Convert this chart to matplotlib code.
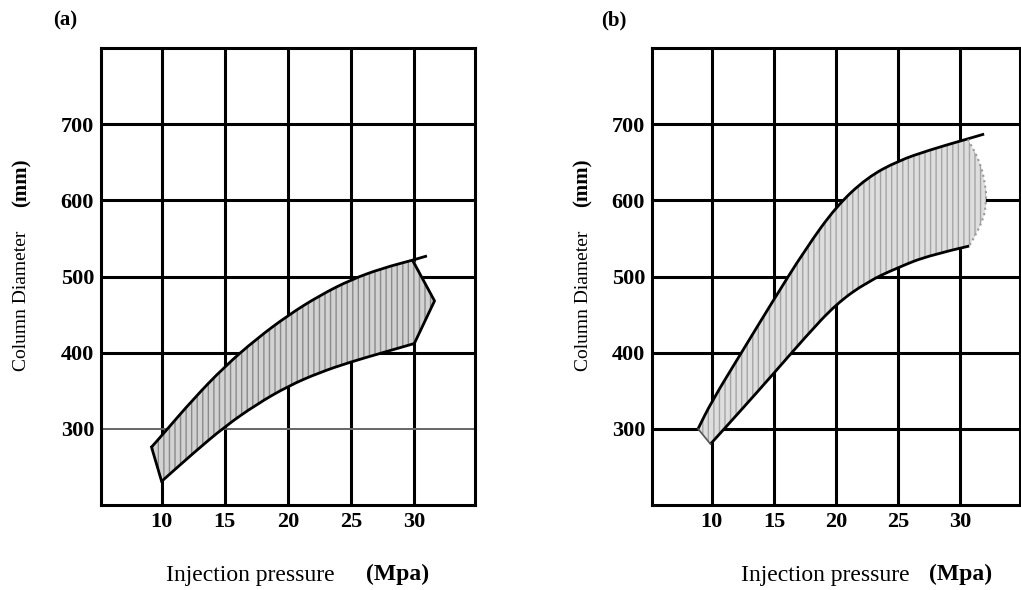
import numpy as np
import matplotlib
matplotlib.use("Agg")
import matplotlib.pyplot as plt
from matplotlib.path import Path
from matplotlib.patches import PathPatch

# =========================
# DATA
# =========================

x_ticks = [10, 15, 20, 25, 30]
y_ticks = [300, 400, 500, 600, 700]

# panel (a)
upper_a_x = [9.2, 10, 12.5, 15, 17.5, 20, 22.5, 25, 27.5, 30, 31.0]
upper_a_y = [276, 291, 339, 382, 418, 449, 475, 496, 511, 522, 527]
lower_a_x = [10, 12.5, 15, 17.5, 20, 22.5, 25, 27.5, 30]
lower_a_y = [231, 268, 303, 332, 356, 374, 388, 400, 412]
tip_a = (31.6, 468)

# panel (b)
upper_b_x = [8.9, 10, 12.5, 15, 17.5, 20, 22.5, 25, 27.5, 30, 31.9]
upper_b_y = [300, 336, 403, 470, 535, 592, 630, 652, 666, 678, 687]
lower_b_x = [9.9, 12.5, 15, 17.5, 20, 22.5, 25, 27.5, 30.7]
lower_b_y = [280, 327, 373, 420, 464, 493, 512, 528, 540]
edge_b_x = [30.6, 31.6, 32.0, 32.1, 31.8, 30.7]
edge_b_y = [680, 650, 620, 600, 570, 540]

plt.rcParams['font.family'] = ['Liberation Serif', 'DejaVu Serif']

fig = plt.figure(figsize=(10.21, 5.90), dpi=100)


def smooth(xs, ys):
    # quadratic bezier through the midpoints, so the drawn curve has no kinks
    p = list(zip(xs, ys))
    verts = [p[0]]
    codes = [Path.MOVETO]
    if len(p) > 2:
        verts.append(((p[0][0] + p[1][0]) / 2, (p[0][1] + p[1][1]) / 2))
        codes.append(Path.LINETO)
        for i in range(1, len(p) - 1):
            mid = ((p[i][0] + p[i + 1][0]) / 2, (p[i][1] + p[i + 1][1]) / 2)
            if i == len(p) - 2:
                mid = p[i + 1]
            verts += [p[i], mid]
            codes += [Path.CURVE3, Path.CURVE3]
    else:
        verts.append(p[1])
        codes.append(Path.LINETO)
    return verts, codes


def joined(*pieces):
    verts, codes = [], []
    for k, (v, c) in enumerate(pieces):
        c = list(c)
        if k > 0:
            c[0] = Path.LINETO
        verts += v
        codes += c
    verts.append(verts[0])
    codes.append(Path.CLOSEPOLY)
    return Path(verts, codes)


def draw_curve(ax, xs, ys, **kw):
    v, c = smooth(xs, ys)
    ax.add_patch(PathPatch(Path(v, c), fill=False, zorder=3, **kw))


def grid_axes(rect, light_300=False):
    ax = fig.add_axes(rect)
    ax.set_xlim(5.2, 34.8)
    ax.set_ylim(200, 800)
    for x in x_ticks:
        ax.axvline(x, color='black', lw=2.2, zorder=1)
    for y in y_ticks:
        if light_300 and y == 300:
            ax.axhline(y, color='#666666', lw=1.4, zorder=1)
        else:
            ax.axhline(y, color='black', lw=2.2, zorder=1)
    for s in ax.spines.values():
        s.set_linewidth(2.2)
    ax.set_xticks(x_ticks)
    ax.set_yticks(y_ticks)
    ax.tick_params(length=0, labelsize=16, pad=5)
    for lab in ax.get_xticklabels() + ax.get_yticklabels():
        lab.set_fontweight('bold')
    return ax


# =========================
# PANEL (a)
# =========================

ax1 = grid_axes([0.0989, 0.1441, 0.3663, 0.7745], light_300=True)

shape_a = joined(smooth(upper_a_x[:-1], upper_a_y[:-1]),
                 smooth([upper_a_x[-2], tip_a[0]], [upper_a_y[-2], tip_a[1]]),
                 smooth(lower_a_x[::-1], lower_a_y[::-1]))
ax1.add_patch(PathPatch(shape_a, facecolor='#d2d2d2', edgecolor='#8a8a8a',
                        hatch='|||', linewidth=0, zorder=2))
draw_curve(ax1, upper_a_x, upper_a_y, color='black', lw=2)
draw_curve(ax1, lower_a_x, lower_a_y, color='black', lw=2)
ax1.plot([lower_a_x[-1], tip_a[0], upper_a_x[-2] - 0.1],
         [lower_a_y[-1], tip_a[1], upper_a_y[-2] - 2],
         color='black', lw=2, zorder=3)
ax1.plot([upper_a_x[0], lower_a_x[0]], [upper_a_y[0], lower_a_y[0]],
         color='black', lw=2, zorder=3)

# =========================
# PANEL (b)
# =========================

ax2 = grid_axes([0.6386, 0.1441, 0.3606, 0.7745])

shape_b = joined(smooth(upper_b_x[:-1], upper_b_y[:-1]),
                 smooth(edge_b_x, edge_b_y),
                 smooth(lower_b_x[::-1], lower_b_y[::-1]))
ax2.add_patch(PathPatch(shape_b, facecolor='#dedede', edgecolor='#a5a5a5',
                        hatch='|||', linewidth=0, zorder=2))
draw_curve(ax2, upper_b_x, upper_b_y, color='black', lw=2)
draw_curve(ax2, lower_b_x, lower_b_y, color='black', lw=2)
draw_curve(ax2, edge_b_x, edge_b_y, color='#9a9a9a', lw=1.5, ls=':')
ax2.plot([upper_b_x[0], lower_b_x[0]], [upper_b_y[0], lower_b_y[0]],
         color='#555555', lw=1.2, zorder=3)

# =========================
# LABELS
# =========================

W, H = 1021, 590
for (px, tx, mx, ylx, lab) in [(65, 250, 398, 22, '(a)'),
                               (614, 825, 961, 583, '(b)')]:
    fig.text(px / W, 1 - 20 / H, lab, fontsize=15, fontweight='bold',
             ha='center', va='center')
    fig.text(tx / W, 1 - 576 / H, 'Injection pressure', fontsize=17,
             ha='center', va='center')
    fig.text(mx / W, 1 - 574 / H, '(Mpa)', fontsize=17, fontweight='bold',
             ha='center', va='center')
    fig.text(ylx / W, 1 - 301 / H, 'Column Diameter', fontsize=14,
             rotation=90, ha='center', va='center')
    fig.text(ylx / W, 1 - 183 / H, '(mm)', fontsize=15, fontweight='bold',
             rotation=90, ha='center', va='center')

fig.savefig('out.png', dpi=100)
